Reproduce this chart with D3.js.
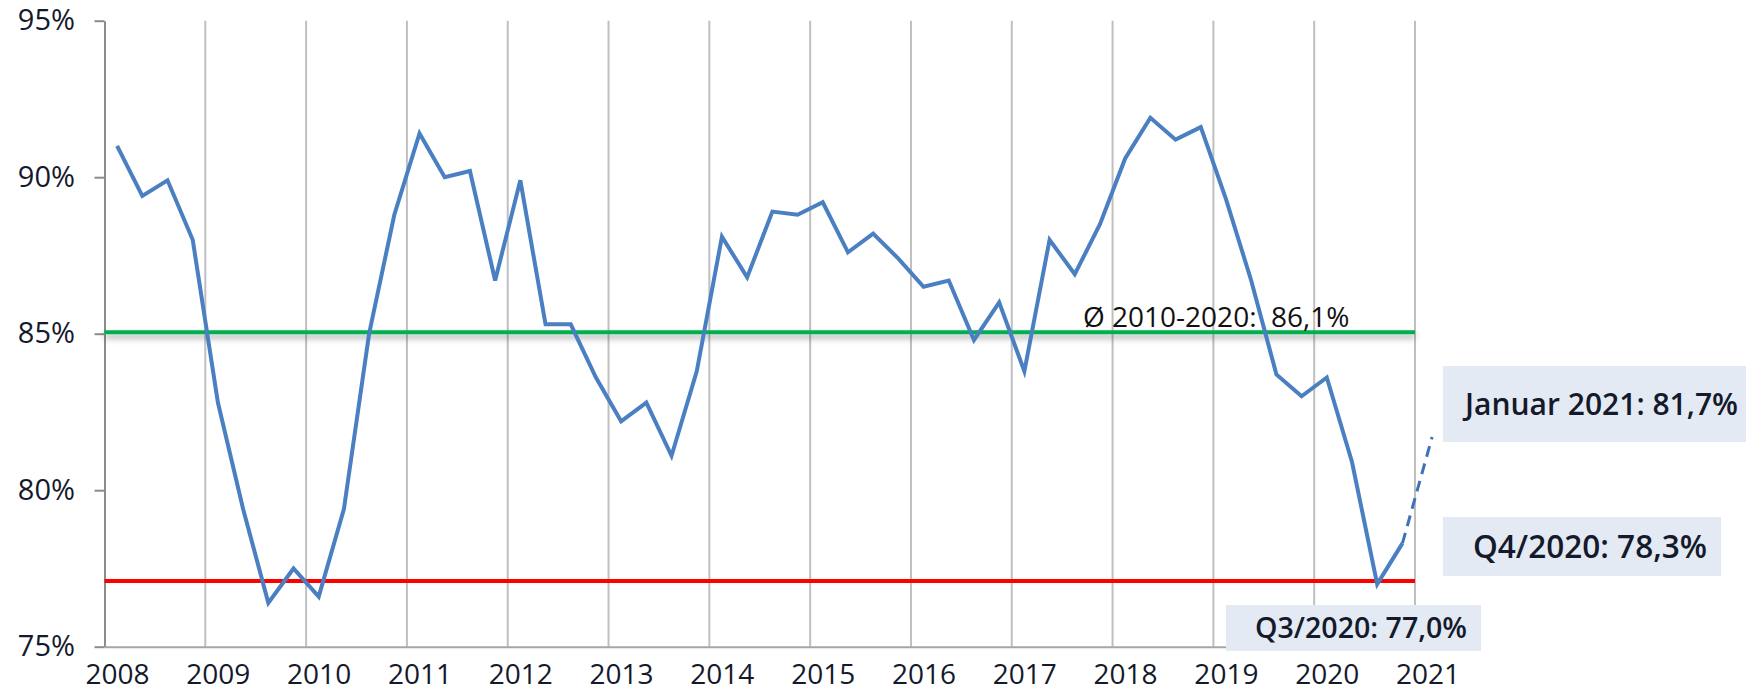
<!DOCTYPE html>
<html>
<head>
<meta charset="utf-8">
<script src="https://cdn.jsdelivr.net/npm/d3@7"></script>
<style>
body{margin:0;background:#fff;}
text{font-family:"Open Sans",sans-serif;}
</style>
</head>
<body>
<div id="chart"></div>
<script>
//=====================data=========================
const years = [2008,2009,2010,2011,2012,2013,2014,2015,2016,2017,2018,2019,2020];
// one row per year, Q1..Q4 (%)
const quarterValues = [
    [91.0, 89.4, 89.9, 88.0],
    [82.8, 79.4, 76.4, 77.5],
    [76.6, 79.4, 85.0, 88.8],
    [91.4, 90.0, 90.2, 86.7],
    [89.9, 85.3, 85.3, 83.6],
    [82.2, 82.8, 81.1, 83.8],
    [88.1, 86.8, 88.9, 88.8],
    [89.2, 87.6, 88.2, 87.4],
    [86.5, 86.7, 84.8, 86.0],
    [83.8, 88.0, 86.9, 88.5],
    [90.6, 91.9, 91.2, 91.6],
    [89.3, 86.7, 83.7, 83.0],
    [83.6, 80.9, 77.0, 78.3]
];
const januar2021 = {x: 2021.17, value: 81.7};
const avgLevel = 85.05;   // where the green line sits
const avgStated = 86.1;   // value written in its label
const minLevel = 77.1;
const yTicks = [75,80,85,90,95];
const xTicks = [2008,2009,2010,2011,2012,2013,2014,2015,2016,2017,2018,2019,2020,2021];
const calloutNames = ['Januar 2021','Q4/2020','Q3/2020'];
const calloutValues = [81.7, 78.3, 77.0];

//=====================plot size=========================
var width = 1756, height = 692;
var plot = {left:104.5, right:1415, top:20.7, bottom:646.7};
// callout boxes (layout only)
var boxes = [
    {x:1443, y:366, w:303, h:76, tx:1465, ty:415, size:30, len:273},
    {x:1443, y:517, w:278, h:59, tx:1473, ty:558, size:32, len:234},
    {x:1226, y:605, w:255, h:46, tx:1255, ty:638, size:29, len:212}
];

var de = d3.formatLocale({decimal:",", thousands:".", grouping:[3], currency:["","€"]});
var fmt1 = de.format(".1f");

var svg = d3.select('#chart')
    .append('svg')
    .attr('width', width)
    .attr('height', height);

//==========shadow under the green line (user space, the line has no height)==========
var defs = svg.append('defs');
defs.append('filter')
    .attr('id','shadow')
    .attr('filterUnits','userSpaceOnUse')
    .attr('x', 0).attr('y', 0).attr('width', width).attr('height', height)
    .append('feDropShadow')
    .attr('dx',0).attr('dy',4).attr('stdDeviation',3)
    .attr('flood-color','#000').attr('flood-opacity',0.35);

//====================scales=============
var x = d3.scaleLinear().domain([2008, 2021]).range([plot.left, plot.right]);
var y = d3.scaleLinear().domain([75, 95]).range([plot.bottom, plot.top]);

//====================grid=============
svg.append('g')
    .selectAll('line')
    .data(xTicks.slice(1))
    .enter()
    .append('line')
    .attr('x1', d => x(d)).attr('x2', d => x(d))
    .attr('y1', plot.top).attr('y2', plot.bottom)
    .style('stroke', '#bfbfbf')
    .style('stroke-width', 2);

//====================axes=============
var yAxis = svg.append('g')
    .attr('transform', 'translate(' + plot.left + ',0)')
    .call(d3.axisLeft(y).tickValues(yTicks).tickSize(10).tickSizeOuter(0).tickPadding(19.5)
        .tickFormat(d => d + '%'));
yAxis.select('.domain').style('stroke', '#8c8c8c').style('stroke-width', 2);
yAxis.selectAll('.tick line').style('stroke', '#8c8c8c').style('stroke-width', 2);
yAxis.selectAll('.tick text')
    .style('font-size', '29px')
    .style('fill', '#141a2b');

var xAxis = svg.append('g')
    .attr('transform', 'translate(0,' + plot.bottom + ')')
    .call(d3.axisBottom(x).tickValues(xTicks).tickSize(0).tickSizeOuter(0).tickPadding(17)
        .tickFormat(d3.format('d')));
xAxis.select('.domain').style('stroke', '#a6a6a6').style('stroke-width', 2);
xAxis.selectAll('.tick text')
    .attr('dx', 12.5)
    .style('font-size', '28px')
    .style('fill', '#141a2b');

//====================reference lines=============
svg.append('line')
    .attr('x1', plot.left).attr('x2', plot.right)
    .attr('y1', y(avgLevel)).attr('y2', y(avgLevel))
    .style('stroke', '#00b050')
    .style('stroke-width', 4)
    .attr('filter', 'url(#shadow)');

svg.append('line')
    .attr('x1', plot.left).attr('x2', plot.right)
    .attr('y1', y(minLevel)).attr('y2', y(minLevel))
    .style('stroke', '#ff0000')
    .style('stroke-width', 4);

//====================series=============
var points = [];
years.forEach((yr, i) => {
    quarterValues[i].forEach((v, q) => {
        points.push({t: yr + (q + 0.5) / 4, v: v});
    });
});

var line = d3.line().x(d => x(d.t)).y(d => y(d.v));

svg.append('path')
    .datum(points)
    .attr('d', line)
    .style('fill', 'none')
    .style('stroke', '#4a7fc1')
    .style('stroke-width', 4)
    .style('stroke-linejoin', 'miter');

var last = points[points.length - 1];
svg.append('path')
    .datum([last, {t: januar2021.x, v: januar2021.value}])
    .attr('d', line)
    .style('fill', 'none')
    .style('stroke', '#3f73b8')
    .style('stroke-width', 3)
    .style('stroke-dasharray', '11,7');

//====================labels=============
svg.append('text')
    .attr('x', 1083)
    .attr('y', 327.3)
    .attr('xml:space', 'preserve')
    .style('white-space', 'pre')
    .style('font-size', '28px')
    .style('fill', '#111')
    .text('Ø 2010-2020:  ' + fmt1(avgStated) + '%');

var callouts = svg.append('g')
    .selectAll('g')
    .data(boxes)
    .enter()
    .append('g');

callouts.append('rect')
    .attr('x', d => d.x).attr('y', d => d.y)
    .attr('width', d => d.w).attr('height', d => d.h)
    .style('fill', '#e4eaf4');

callouts.append('text')
    .attr('x', d => d.tx)
    .attr('y', d => d.ty)
    .attr('textLength', d => d.len)
    .attr('lengthAdjust', 'spacingAndGlyphs')
    .style('font-size', d => d.size + 'px')
    .style('font-weight', 600)
    .style('fill', '#141a2b')
    .text((d, i) => calloutNames[i] + ': ' + fmt1(calloutValues[i]) + '%');
</script>
</body>
</html>
